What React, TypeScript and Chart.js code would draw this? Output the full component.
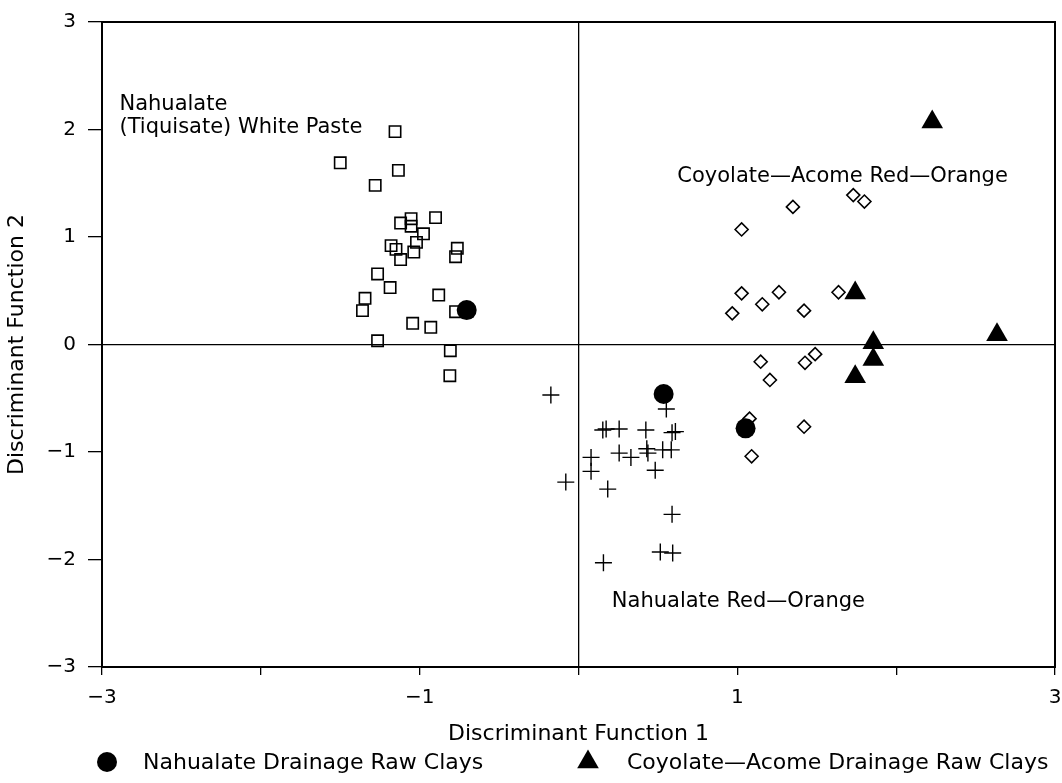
import React, { useEffect, useRef } from 'react';
import { Chart, registerables } from 'chart.js';

Chart.register(...registerables);

// White paste (open squares)
const whitePasteX = [-1.155, -1.5, -1.134, -1.28, -1.12, -1.054, -1.054, -0.9, -0.976, -1.02, -1.037, -1.18, -1.149, -1.12, -0.763, -0.774, -1.265, -1.186, -1.344, -1.36, -0.88, -0.774, -1.044, -0.93, -1.265, -0.807, -0.81];
const whitePasteY = [1.98, 1.69, 1.62, 1.48, 1.13, 1.17, 1.1, 1.18, 1.03, 0.95, 0.86, 0.92, 0.885, 0.79, 0.895, 0.817, 0.656, 0.53, 0.43, 0.315, 0.46, 0.305, 0.197, 0.16, 0.035, -0.058, -0.29];

// Nahualate red-orange (crosses)
const nahRedX = [-0.174, -0.08, 0.553, 0.153, 0.174, 0.256, 0.424, 0.589, 0.61, 0.079, 0.079, 0.256, 0.33, 0.43, 0.437, 0.53, 0.584, 0.483, 0.184, 0.589, 0.515, 0.593, 0.157];
const nahRedY = [-0.47, -1.28, -0.6, -0.795, -0.786, -0.786, -0.795, -0.82, -0.81, -1.05, -1.18, -1.01, -1.05, -0.97, -1.01, -0.98, -0.98, -1.17, -1.345, -1.58, -1.93, -1.94, -2.03];

// Coyolate-Acome red-orange (open diamonds)
const coyRedX = [1.35, 1.027, 1.73, 1.8, 1.027, 1.262, 1.157, 0.968, 1.42, 1.637, 1.147, 1.205, 1.426, 1.49, 1.42, 1.077, 1.09];
const coyRedY = [1.28, 1.07, 1.39, 1.33, 0.476, 0.486, 0.374, 0.29, 0.315, 0.486, -0.16, -0.33, -0.17, -0.09, -0.765, -0.69, -1.04];

// Nahualate drainage raw clays (filled circles)
const nahClayX = [-0.704, 0.536, 1.052];
const nahClayY = [0.32, -0.46, -0.78];

// Coyolate-Acome drainage raw clays (filled triangles)
const coyClayX = [2.227, 1.742, 2.635, 1.856, 1.856, 1.742];
const coyClayY = [2.07, 0.48, 0.09, 0.016, -0.14, -0.3];

const xTickLabels = ['−3', '', '−1', '', '1', '', '3'];
const yTickLabels = ['−3', '−2', '−1', '0', '1', '2', '3'];

const legendLabels = ['Nahualate Drainage Raw Clays', 'Coyolate—Acome Drainage Raw Clays'];

const annotations = [
  { text: 'Nahualate', x: -2.89, y: 2.186 },
  { text: '(Tiquisate) White Paste', x: -2.89, y: 1.965 },
  { text: 'Coyolate—Acome Red—Orange', x: 0.622, y: 1.514 },
  { text: 'Nahualate Red—Orange', x: 0.21, y: -2.44 },
];

const FONT = "'DejaVu Sans', 'Liberation Sans', sans-serif";

const toPts = (xs: number[], ys: number[]) => xs.map((x, i) => ({ x, y: ys[i] }));

const overlayPlugin = {
  id: 'overlay',
  beforeDatasetsDraw(chart: any) {
    const { ctx, chartArea } = chart;
    ctx.save();
    ctx.strokeStyle = '#000';
    ctx.lineWidth = 2;
    ctx.strokeRect(chartArea.left, chartArea.top, chartArea.right - chartArea.left, chartArea.bottom - chartArea.top);
    ctx.restore();
  },
  afterDatasetsDraw(chart: any) {
    const { ctx } = chart;
    const xs = chart.scales.x;
    const ys = chart.scales.y;
    ctx.save();
    ctx.fillStyle = '#000';
    ctx.font = `21px ${FONT}`;
    ctx.textAlign = 'left';
    ctx.textBaseline = 'alphabetic';
    annotations.forEach((a) => {
      ctx.fillText(a.text, xs.getPixelForValue(a.x), ys.getPixelForValue(a.y));
    });

    // legend
    const ly = 762;
    ctx.beginPath();
    ctx.arc(107, ly, 10, 0, Math.PI * 2);
    ctx.fill();
    ctx.beginPath();
    const tx = 588, r = 12.5;
    ctx.moveTo(tx, ly - r);
    ctx.lineTo(tx + r * Math.sqrt(3) / 2, ly + r / 2);
    ctx.lineTo(tx - r * Math.sqrt(3) / 2, ly + r / 2);
    ctx.closePath();
    ctx.fill();
    ctx.font = `22px ${FONT}`;
    ctx.textBaseline = 'middle';
    ctx.fillText(legendLabels[0], 143, ly + 1);
    ctx.fillText(legendLabels[1], 627, ly + 1);
    ctx.restore();
  },
};

export default function App() {
  const ref = useRef<HTMLCanvasElement | null>(null);
  useEffect(() => {
    if (!ref.current) return;
    const chart = new Chart(ref.current, {
      type: 'scatter',
      data: {
        datasets: [
          {
            label: legendLabels[0],
            data: toPts(nahClayX, nahClayY),
            pointStyle: 'circle',
            pointRadius: 10,
            backgroundColor: '#000',
            borderColor: '#000',
            borderWidth: 0,
          },
          {
            label: legendLabels[1],
            data: toPts(coyClayX, coyClayY),
            pointStyle: 'triangle',
            pointRadius: 12.5,
            backgroundColor: '#000',
            borderColor: '#000',
            borderWidth: 0,
          },
          {
            label: 'Nahualate (Tiquisate) White Paste',
            data: toPts(whitePasteX, whitePasteY),
            pointStyle: 'rect',
            pointRadius: 8,
            backgroundColor: 'rgba(0,0,0,0)',
            borderColor: '#000',
            borderWidth: 1.6,
          },
          {
            label: 'Coyolate-Acome Red-Orange',
            data: toPts(coyRedX, coyRedY),
            pointStyle: 'rectRot',
            pointRadius: 6.5,
            backgroundColor: 'rgba(0,0,0,0)',
            borderColor: '#000',
            borderWidth: 1.6,
          },
          {
            label: 'Nahualate Red-Orange',
            data: toPts(nahRedX, nahRedY),
            pointStyle: 'cross',
            pointRadius: 8.5,
            backgroundColor: 'rgba(0,0,0,0)',
            borderColor: '#000',
            borderWidth: 1.4,
          },
        ],
      },
      options: {
        animation: false,
        responsive: false,
        maintainAspectRatio: false,
        layout: { autoPadding: false, padding: { top: 22, right: 7, bottom: 36, left: 0 } },
        plugins: {
          legend: { display: false },
          tooltip: { enabled: false },
        },
        scales: {
          x: {
            type: 'linear',
            min: -3,
            max: 3,
            afterFit: (s: any) => {
              s.height = 80;
              s.paddingLeft = 0;
              s.paddingRight = 0;
            },
            ticks: {
              stepSize: 1,
              autoSkip: false,
              maxRotation: 0,
              padding: 11,
              color: '#000',
              font: { family: FONT, size: 20 },
              callback: (v: any) => xTickLabels[Math.round(Number(v)) + 3] ?? '',
            },
            grid: {
              color: (c: any) => (c.tick && c.tick.value === 0 ? '#000' : 'rgba(0,0,0,0)'),
              tickColor: '#000',
              tickLength: 8,
              lineWidth: 1.3,
            },
            border: { display: true, color: '#000', width: 2 },
            title: {
              display: true,
              text: 'Discriminant Function 1',
              color: '#000',
              font: { family: FONT, size: 22 },
              padding: { top: 0, bottom: 0 },
            },
          },
          y: {
            type: 'linear',
            min: -3,
            max: 3,
            afterFit: (s: any) => {
              s.width = 102;
              s.paddingTop = 0;
              s.paddingBottom = 0;
            },
            ticks: {
              stepSize: 1,
              autoSkip: false,
              padding: 12,
              color: '#000',
              font: { family: FONT, size: 20 },
              callback: (v: any) => yTickLabels[Math.round(Number(v)) + 3] ?? '',
            },
            grid: {
              color: (c: any) => (c.tick && c.tick.value === 0 ? '#000' : 'rgba(0,0,0,0)'),
              tickColor: '#000',
              tickLength: 14,
              lineWidth: 1.3,
            },
            border: { display: true, color: '#000', width: 2 },
            title: {
              display: true,
              text: 'Discriminant Function 2',
              color: '#000',
              font: { family: FONT, size: 22 },
              padding: { top: 4, bottom: 0 },
            },
          },
        },
      },
      plugins: [overlayPlugin],
    } as any);
    return () => chart.destroy();
  }, []);
  return (
    <div style={{ position: 'fixed', left: 0, top: 0, width: 1062, height: 783, background: '#fff' }}>
      <canvas ref={ref} width={1062} height={783} style={{ width: 1062, height: 783 }} />
    </div>
  );
}
